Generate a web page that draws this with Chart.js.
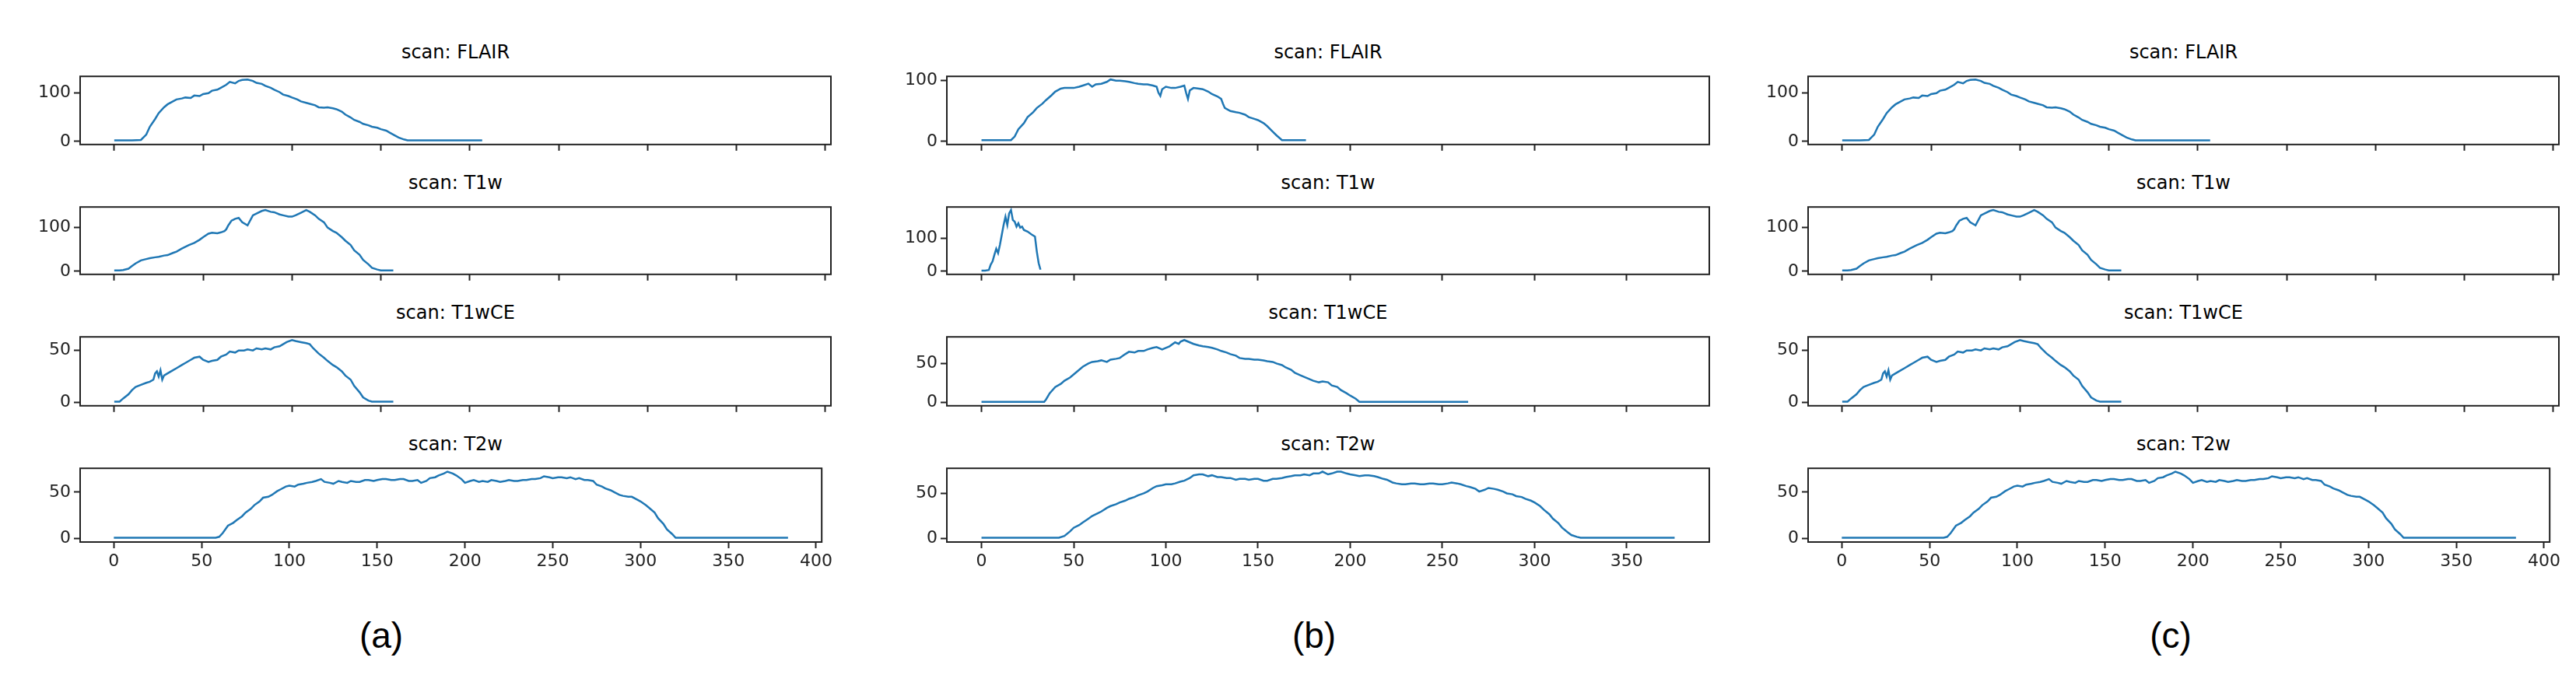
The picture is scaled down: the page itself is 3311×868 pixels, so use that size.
<!DOCTYPE html>
<html>
<head>
<meta charset="utf-8">
<script src="https://cdn.jsdelivr.net/npm/chart.js@4.4.0/dist/chart.umd.min.js"></script>
<style>
  body { margin: 0; background: #fff; width: 3311px; height: 868px; position: relative; overflow: hidden; font-family: "DejaVu Sans", sans-serif; }
  .box { position: absolute; }
  .ttl { position: absolute; font-size: 24px; color: #000; text-align: center; }
  .lbl { position: absolute; font-family: "Liberation Sans", Arial, sans-serif; font-size: 46px; color: #000; text-align: center; width: 200px; }
</style>
</head>
<body>
<script>
// ---- data ----
const scans = ['FLAIR', 'T1w', 'T1wCE', 'T2w'];
const panelLabels = ['(a)', '(b)', '(c)'];

const flairA_x = [0,5,10,15,18,20,23,25,28,30,33,35,38,40,43,45,48,50,53,55,58,60,63,65,68,70,72,75,78,80,83,85,88,90,93,95,98,100,103,105,108,110,113,115,118,120,123,125,128,130,133,135,138,140,143,145,148,150,153,155,158,160,163,165,170,180,190,200,207];
const flairA_y = [2,2,2,3,14,30,46,58,70,76,82,86,88,90,89,94,93,97,99,104,106,110,116,122,119,124,126,127,124,120,118,114,110,106,101,96,93,90,86,82,79,77,74,70,69,70,68,66,61,55,49,44,40,36,33,30,28,25,22,18,12,8,4,2,2,2,2,2,2];

const t1wA_x = [0,3,5,8,10,12,15,18,20,23,25,28,30,33,35,38,40,42,45,48,50,53,55,58,60,62,63,64,65,66,67,68,70,72,75,78,80,83,85,88,90,93,95,98,100,102,105,108,110,113,115,118,120,123,125,128,130,133,135,138,140,143,145,148,150,157];
const t1wA_y = [2,2,3,6,12,18,25,28,30,32,33,36,37,42,45,52,56,60,65,72,78,86,88,87,89,92,96,104,110,116,118,120,122,112,105,128,132,138,140,136,135,130,128,125,125,128,134,140,136,128,120,112,100,92,88,78,70,60,48,38,26,16,8,4,2,2];

const t1wceA_x = [0,3,5,8,10,12,15,18,20,22,23,24,25,26,27,28,30,33,35,38,40,43,45,48,50,53,55,58,60,63,65,68,70,73,75,78,80,83,85,88,90,93,95,97,100,102,105,108,110,112,115,118,120,123,125,128,130,133,135,138,140,143,145,150,157];
const t1wceA_y = [1,1,4,8,12,15,17,19,20,22,28,30,25,31,22,26,28,31,33,36,38,41,43,44,41,39,40,41,44,46,49,48,50,50,51,50,52,51,52,51,53,54,56,58,60,59,58,57,56,52,47,43,40,36,34,30,26,22,16,10,5,2,1,1,1];

const t2wA_x = [0,20,40,58,60,62,65,68,70,73,75,78,80,83,85,88,90,93,95,98,100,103,105,108,110,113,115,118,120,123,125,128,130,133,135,138,140,143,145,148,150,153,155,158,160,163,165,168,170,173,175,178,180,183,185,188,190,193,195,198,200,203,205,208,210,213,215,218,220,223,225,228,230,233,235,238,240,243,245,248,250,253,255,258,260,263,265,268,270,273,275,278,280,283,285,288,290,293,295,298,300,303,305,308,310,313,315,318,320,330,350,370,384];
const t2wA_y = [1,1,1,1,2,6,14,17,20,24,28,32,36,40,44,45,47,51,53,56,57,56,58,59,60,61,62,64,61,60,59,62,61,60,62,61,61,63,63,62,63,64,64,63,63,64,64,62,62,63,60,62,65,66,68,70,72,70,68,64,60,62,63,61,62,61,63,62,61,62,63,62,62,63,63,64,64,65,67,66,65,66,66,65,66,64,65,63,63,62,58,56,54,52,50,47,46,45,45,42,40,36,33,28,22,16,10,5,1,1,1,1,1];

const flairB_x = [0,10,16,18,20,23,25,28,30,33,35,38,40,43,45,48,50,53,55,58,60,62,65,68,70,73,75,78,80,83,85,88,90,93,95,96,97,98,100,103,105,108,110,111,112,113,115,118,120,123,125,128,130,131,132,135,138,140,143,145,148,150,153,155,158,160,163,170,176];
const flairB_y = [2,2,2,8,20,30,40,48,55,62,68,76,82,87,88,88,88,90,92,95,90,94,95,98,102,100,100,99,98,96,95,94,94,92,90,80,75,86,90,88,88,90,92,80,70,84,88,87,86,82,78,74,70,62,55,50,48,47,44,40,37,35,30,25,16,10,2,2,2];

const t1wB_x = [0,2,4,5,6,7,8,9,10,11,12,13,14,15,16,17,18,19,20,21,22,23,25,27,29,30,31,32];
const t1wB_y = [2,2,4,20,30,50,68,55,80,110,140,165,140,175,185,155,150,135,145,132,135,125,120,112,105,60,25,5];

const t1wceB_x = [0,20,34,35,37,40,43,45,48,50,53,55,58,60,63,65,68,70,73,75,78,80,83,85,88,90,93,95,98,100,102,105,107,108,110,113,115,118,120,123,125,128,130,133,135,138,140,143,145,148,150,153,155,158,160,163,165,168,170,173,175,178,180,183,185,188,190,193,195,198,200,203,205,220,240,264];
const t1wceB_y = [1,1,1,4,12,20,24,28,32,36,42,46,50,52,53,54,52,55,56,57,62,65,64,66,66,68,70,71,68,70,72,77,75,78,80,77,75,73,72,71,70,68,66,64,62,60,57,56,56,55,55,54,53,52,50,48,45,42,38,35,33,30,28,26,27,26,22,20,16,12,9,5,1,1,1,1];

const t2wB_x = [0,20,42,45,48,50,53,55,58,60,63,65,68,70,73,75,78,80,83,85,88,90,93,95,98,100,103,105,108,110,113,115,118,120,123,125,128,130,133,135,138,140,143,145,148,150,153,155,158,160,163,165,168,170,173,175,178,180,183,185,188,190,193,195,198,200,203,205,208,210,213,215,218,220,223,225,228,230,233,235,238,240,243,245,248,250,253,255,258,260,263,265,268,270,273,275,278,280,283,285,288,290,293,295,298,300,303,305,308,310,313,315,318,320,323,325,340,360,376];
const t2wB_y = [1,1,1,3,8,12,15,18,22,25,28,30,34,36,38,40,42,44,46,48,50,52,56,58,59,60,60,61,63,64,67,70,71,71,69,70,68,68,67,67,65,66,66,65,66,66,64,64,66,66,67,68,69,70,70,71,70,72,72,74,71,72,74,74,72,71,70,69,70,70,69,68,66,65,62,61,60,60,61,61,60,60,61,61,60,60,61,62,61,60,58,57,55,52,54,56,55,54,52,50,49,47,46,44,42,40,36,32,27,22,17,12,7,4,2,1,1,1,1];

const yTicksA = [[0,100],[0,100],[0,50],[0,50]];
const yTicksB = [[0,100],[0,100],[0,50],[0,50]];
const xTicksA = [0,50,100,150,200,250,300,350,400];
const xTicksB = [0,50,100,150,200,250,300,350];

const panels = [
  { xs: [flairA_x, t1wA_x, t1wceA_x, t2wA_x], ys: [flairA_y, t1wA_y, t1wceA_y, t2wA_y], yt: yTicksA, xt: xTicksA, left: 103, right: 1068, labelX: 490 },
  { xs: [flairB_x, t1wB_x, t1wceB_x, t2wB_x], ys: [flairB_y, t1wB_y, t1wceB_y, t2wB_y], yt: yTicksB, xt: xTicksB, left: 1217, right: 2197, labelX: 1689 },
  { xs: [flairA_x, t1wA_x, t1wceA_x, t2wA_x], ys: [flairA_y, t1wA_y, t1wceA_y, t2wA_y], yt: yTicksA, xt: xTicksA, left: 2324, right: 3289, labelX: 2790 }
];
const rows = [[87, 191], [255, 358], [422, 527], [591, 697]];

// ---- drawing ----
const frame = {
  id: 'frame',
  afterDraw(chart) {
    const a = chart.chartArea, c = chart.ctx;
    c.save(); c.strokeStyle = '#222'; c.lineWidth = 2;
    c.strokeRect(a.left, a.top, a.right - a.left, a.bottom - a.top);
    c.restore();
  }
};
const YW = 80, PAD = 6;

panels.forEach((p, pi) => {
  let maxX = 0;
  p.xs.forEach(xs => { maxX = Math.max(maxX, xs[xs.length - 1]); });
  const xMin = -0.05 * maxX, xMax = maxX * 1.05;

  rows.forEach(([top, bottom], ri) => {
    const last = ri === rows.length - 1;
    const XH = last ? 46 : 12;
    const W = p.right - p.left, H = bottom - top;

    const t = document.createElement('div');
    t.className = 'ttl';
    t.style.left = p.left + 'px'; t.style.width = W + 'px';
    t.style.top = (top - 34) + 'px';
    t.textContent = 'scan: ' + scans[ri];
    document.body.appendChild(t);

    const box = document.createElement('div');
    box.className = 'box';
    box.style.left = (p.left - YW) + 'px'; box.style.top = (top - PAD) + 'px';
    box.style.width = (W + YW + PAD) + 'px'; box.style.height = (H + PAD + XH) + 'px';
    const cv = document.createElement('canvas');
    box.appendChild(cv);
    document.body.appendChild(box);

    const ys = p.ys[ri], xs = p.xs[ri];
    const yMaxD = Math.max(...ys);
    const yMin = -0.05 * yMaxD, yMax = yMaxD * 1.05;
    const pts = xs.map((x, i) => ({ x, y: ys[i] }));

    new Chart(cv, {
      type: 'line',
      data: { datasets: [{ data: pts, borderColor: '#1f77b4', borderWidth: 2.5, pointRadius: 0, tension: 0, fill: false }] },
      plugins: [frame],
      options: {
        responsive: true, maintainAspectRatio: false, animation: false,
        layout: { padding: { top: PAD, right: PAD, left: 0, bottom: 0 } },
        plugins: { legend: { display: false }, tooltip: { enabled: false } },
        scales: {
          x: {
            type: 'linear', min: xMin, max: xMax,
            afterBuildTicks: s => { s.ticks = p.xt.map(v => ({ value: v })); },
            afterFit: s => { s.height = XH; },
            grid: { drawOnChartArea: false, tickLength: 8, tickColor: '#222', tickWidth: 2 },
            border: { display: false },
            ticks: { display: last, color: '#222', font: { family: 'DejaVu Sans', size: 22 }, padding: 4, maxRotation: 0 }
          },
          y: {
            min: yMin, max: yMax,
            afterBuildTicks: s => { s.ticks = p.yt[ri].map(v => ({ value: v })); },
            afterFit: s => { s.width = YW; },
            grid: { drawOnChartArea: false, tickLength: 8, tickColor: '#222', tickWidth: 2 },
            border: { display: false },
            ticks: { color: '#222', font: { family: 'DejaVu Sans', size: 22 }, padding: 4 }
          }
        }
      }
    });
  });

  const l = document.createElement('div');
  l.className = 'lbl';
  l.style.left = (p.labelX - 100) + 'px';
  l.style.top = '790px';
  l.textContent = panelLabels[pi];
  document.body.appendChild(l);
});
</script>
</body>
</html>
